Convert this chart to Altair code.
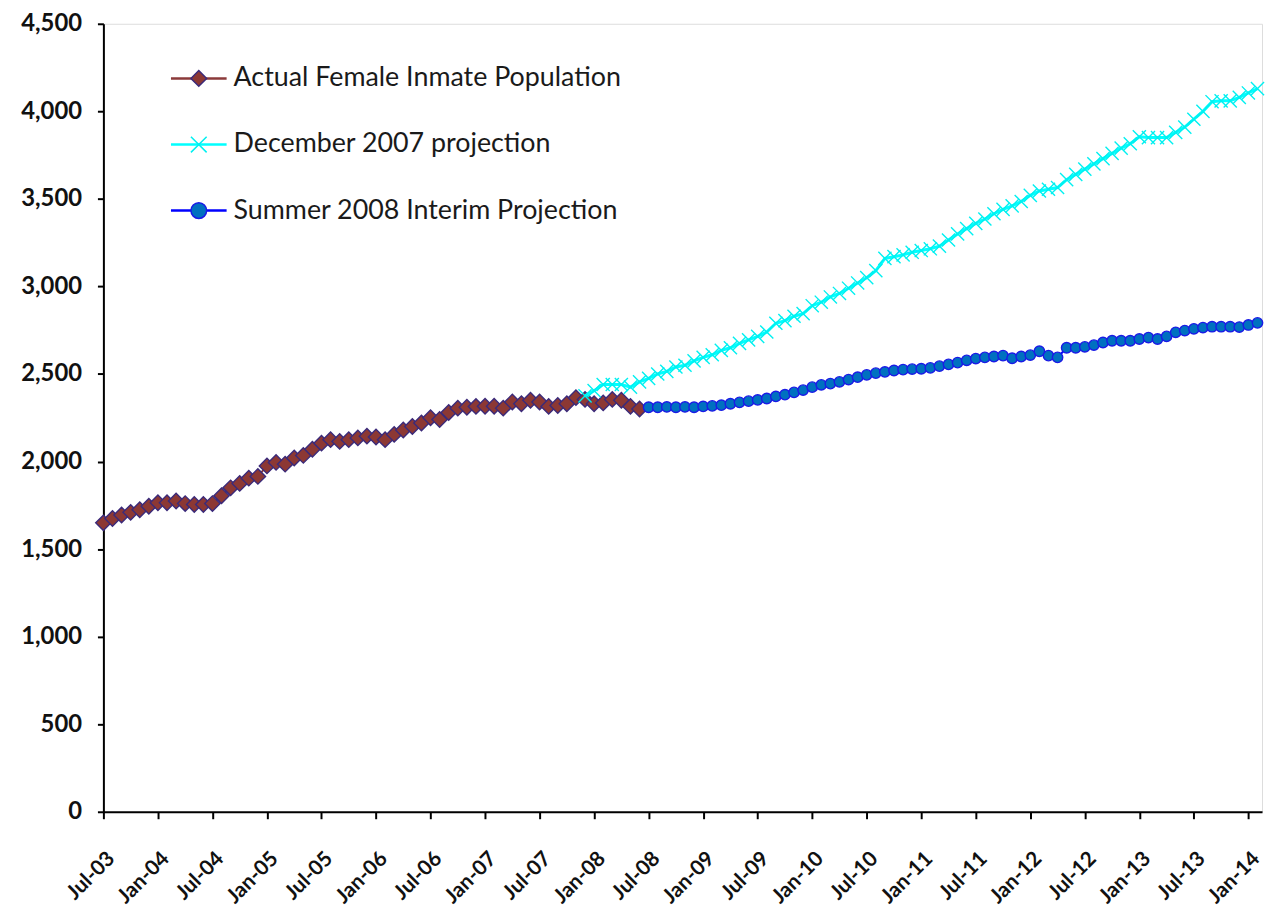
import json
import altair as alt
import pandas as pd

# ---- data ----
tick_labels = ["Jul-03", "Jan-04", "Jul-04", "Jan-05", "Jul-05", "Jan-06", "Jul-06",
               "Jan-07", "Jul-07", "Jan-08", "Jul-08", "Jan-09", "Jul-09", "Jan-10",
               "Jul-10", "Jan-11", "Jul-11", "Jan-12", "Jul-12", "Jan-13", "Jul-13", "Jan-14"]

series_names = ["Actual Female Inmate Population",
                "December 2007 projection",
                "Summer 2008 Interim Projection"]

# months counted from Jul-03 (= 0)
actual_start = 0
dec2007_start = 53
summer2008_start = 60

actual = [1650, 1675, 1695, 1710, 1725, 1745, 1765, 1765, 1775, 1760,
          1755, 1755, 1760, 1805, 1850, 1875, 1905, 1915, 1975, 1995,
          1985, 2020, 2035, 2070, 2105, 2125, 2115, 2125, 2135, 2145,
          2140, 2125, 2155, 2180, 2200, 2220, 2250, 2240, 2280, 2305,
          2310, 2315, 2316, 2316, 2305, 2340, 2330, 2350, 2340, 2315,
          2320, 2330, 2365, 2355, 2330, 2335, 2355, 2350, 2315, 2300]

dec2007 = [2375, 2405, 2440, 2440, 2440, 2425, 2455, 2475, 2500, 2515,
           2540, 2550, 2575, 2595, 2610, 2635, 2650, 2675, 2695, 2715,
           2740, 2790, 2805, 2830, 2845, 2890, 2910, 2940, 2960, 2990,
           3020, 3050, 3090, 3160, 3170, 3180, 3195, 3205, 3215, 3230,
           3265, 3300, 3330, 3360, 3385, 3415, 3440, 3460, 3485, 3520,
           3545, 3555, 3565, 3610, 3640, 3670, 3700, 3730, 3760, 3790,
           3815, 3855, 3850, 3850, 3850, 3880, 3910, 3955, 4000, 4055,
           4060, 4060, 4080, 4105, 4130]

summer2008 = [2310, 2310, 2312, 2310, 2312, 2310, 2315, 2318, 2322, 2330,
              2338, 2345, 2352, 2360, 2372, 2382, 2395, 2408, 2425, 2438,
              2445, 2455, 2468, 2482, 2495, 2505, 2512, 2520, 2525, 2528,
              2530, 2535, 2545, 2555, 2565, 2578, 2588, 2595, 2600, 2605,
              2590, 2600, 2608, 2630, 2605, 2595, 2650, 2650, 2655, 2665,
              2680, 2690, 2690, 2690, 2700, 2708, 2700, 2715, 2738, 2748,
              2758, 2765, 2770, 2770, 2770, 2768, 2780, 2792]

# ---- styles ----
line_colors = ["#8B3A3A", "#00FFFF", "#0000FF"]
fill_colors = ["#8C3834", "#00FFFF", "#0070C0"]
edge_colors = ["#3B2A7A", "#00F0F0", "#1A1AE6"]
shapes = ["diamond", "M-1,-1L1,1M1,-1L-1,1", "circle"]
point_sizes = [240, 110, 300]
line_widths = [2, 3, 2]
FONT = "Lato"

rows = []
for name, start, vals in zip(series_names,
                             [actual_start, dec2007_start, summer2008_start],
                             [actual, dec2007, summer2008]):
    for i, v in enumerate(vals):
        rows.append({"series": name, "month": start + i, "value": v})
df = pd.DataFrame(rows)
legend_df = pd.DataFrame({"series": series_names})

color_scale = alt.Scale(domain=series_names, range=line_colors)
fill_scale = alt.Scale(domain=series_names, range=fill_colors)
stroke_scale = alt.Scale(domain=series_names, range=edge_colors)
shape_scale = alt.Scale(domain=series_names, range=shapes)
size_scale = alt.Scale(domain=series_names, range=point_sizes)

label_expr = json.dumps(tick_labels) + "[round(datum.value / 6)]"

x_axis = alt.Axis(values=list(range(0, 127, 6)), labelExpr=label_expr, labelAngle=-45,
                  labelFont=FONT, labelFontWeight="bold", labelFontSize=21,
                  labelColor="#111111", labelPadding=29, labelOffset=0,
                  tickSize=7, tickColor="#000000", tickWidth=2,
                  domainColor="#000000", domainWidth=2, grid=False, title=None,
                  labelOverlap=False, labelBound=False)
y_axis = alt.Axis(values=list(range(0, 4501, 500)), format=",.0f",
                  labelFont=FONT, labelFontWeight="bold", labelFontSize=24,
                  labelColor="#111111", labelPadding=16,
                  tickSize=6, tickColor="#000000", tickWidth=2,
                  domainColor="#000000", domainWidth=2, grid=False, title=None)

x_enc = alt.X("month:Q", scale=alt.Scale(domain=[0, 127.5], nice=False, zero=False), axis=x_axis)


def y_enc(show_axis):
    return alt.Y("value:Q", scale=alt.Scale(domain=[0, 4500], nice=False),
                 axis=y_axis if show_axis else None)


base = alt.Chart(df)
layers = []
first = True
for k, name in enumerate(series_names):
    sub = base.transform_filter(alt.datum.series == name)
    layers.append(
        sub.mark_line(strokeWidth=line_widths[k]).encode(
            x=x_enc, y=y_enc(first),
            color=alt.Color("series:N", scale=color_scale, legend=None)))
    first = False
    layers.append(
        sub.mark_point(filled=True, strokeWidth=1.4, opacity=1).encode(
            x=x_enc, y=y_enc(False),
            fill=alt.Fill("series:N", scale=fill_scale, legend=None),
            stroke=alt.Stroke("series:N", scale=stroke_scale, legend=None),
            shape=alt.Shape("series:N", scale=shape_scale, legend=None),
            size=alt.Size("series:N", scale=size_scale, legend=None)))

# ---- legend drawn inside the plot, top left ----
leg_y = alt.Y("series:N", scale=alt.Scale(type="point", domain=series_names,
                                          range=[55, 188], padding=0), axis=None)
leg = alt.Chart(legend_df)
legend_line = leg.mark_rule(strokeWidth=2.5).encode(
    x=alt.value(68), x2=alt.value(124), y=leg_y,
    color=alt.Color("series:N", scale=color_scale, legend=None))
legend_mark = leg.mark_point(filled=True, strokeWidth=1.5, opacity=1, size=250).encode(
    x=alt.value(96), y=leg_y,
    fill=alt.Fill("series:N", scale=fill_scale, legend=None),
    stroke=alt.Stroke("series:N", scale=stroke_scale, legend=None),
    shape=alt.Shape("series:N", scale=shape_scale, legend=None))
legend_text = leg.mark_text(align="left", baseline="middle", font=FONT,
                            fontSize=27, color="#1a1a1a").encode(
    x=alt.value(131), y=leg_y, text="series:N")

chart = alt.layer(*layers, legend_line, legend_mark, legend_text).resolve_scale(
    y="independent"
).properties(
    width=1166, height=793,
    padding={"left": 96, "top": 13, "right": 4, "bottom": 100},
    autosize=alt.AutoSizeParams(type="none"),
).configure_view(stroke=None).configure(background="white")

chart.save("out.html", embed_options={"renderer": "svg", "actions": False})
